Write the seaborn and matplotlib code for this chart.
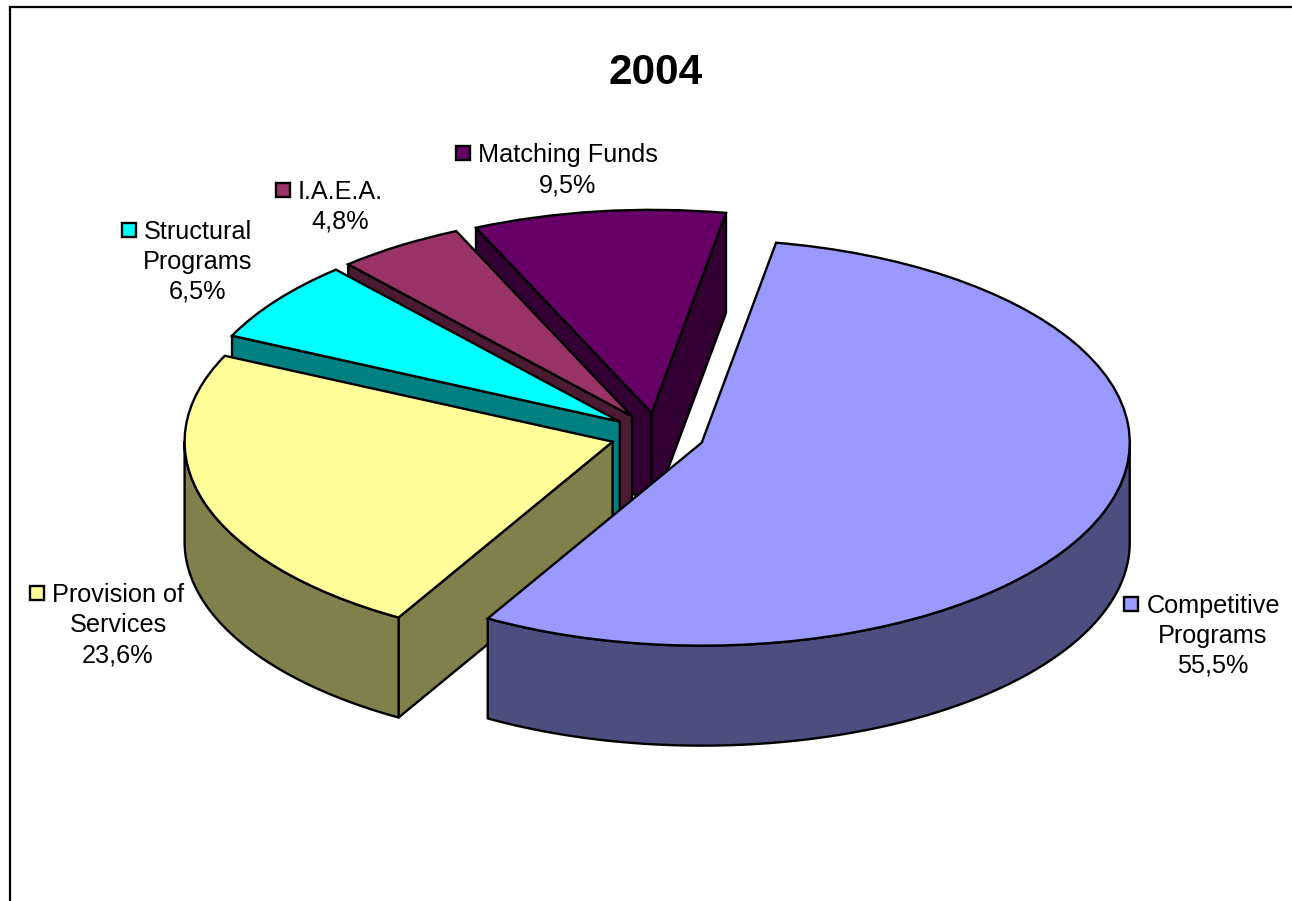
import numpy as np
import seaborn as sns
import matplotlib
matplotlib.use('Agg')
import matplotlib.pyplot as plt
from matplotlib.lines import Line2D

# slices, clockwise from the first cut
categories = ['Competitive\nPrograms', 'Provision of\nServices', 'Structural\nPrograms', 'I.A.E.A.', 'Matching Funds']
shares = [55.5, 23.6, 6.5, 4.8, 9.5]
share_labels = ['55,5%', '23,6%', '6,5%', '4,8%', '9,5%']
top_colors = ['#9999FF', '#FFFF99', '#00FFFF', '#993366', '#660066']

W, H = 1292, 901
CX, CY = 657.5, 435    # pie centre in pixels
RX, RY = 428, 203      # ellipse radii in pixels
DEPTH = 100 / RY
EXPLODE = 0.11
START = 10             # clockwise from top
LW = 1.7

sns.set_theme(style='white')
plt.rcParams['font.family'] = ['Liberation Sans', 'DejaVu Sans']
palette = sns.color_palette(top_colors)
wall_colors = [tuple(np.array(c) * 0.5) for c in palette]

fig = plt.figure(figsize=(W / 100, H / 100), dpi=100)
ax = fig.add_axes([0, 0, 1, 1])


def to_data(px, py):
    return (px - CX) / RX, (CY - py) / RY


wedges, _ = ax.pie(shares, explode=[EXPLODE] * len(shares), colors=palette, startangle=90 - START,
                   counterclock=False, radius=1, wedgeprops=dict(edgecolor='black', linewidth=LW))
ax.set_aspect('auto')
ax.set_xlim(to_data(0, 0)[0], to_data(W, 0)[0])
ax.set_ylim(to_data(0, H)[1], to_data(0, 0)[1])
ax.axis('off')

fracs = np.array(shares) / sum(shares) * 360
ends = START + np.cumsum(fracs)
starts = ends - fracs


def wall(xs, ys, color, z):
    xs = np.asarray(xs)
    ys = np.asarray(ys)
    ax.fill(np.r_[xs, xs[::-1]], np.r_[ys, ys[::-1] - DEPTH], facecolor=color, edgecolor='black',
            linewidth=LW, zorder=z, joinstyle='round')


# back slices first, the big one in front
order = [4, 3, 2, 1, 0]
for z, i in enumerate(order):
    a0, a1 = starts[i], ends[i]
    mid = np.radians((a0 + a1) / 2)
    tx, ty = EXPLODE * np.sin(mid), EXPLODE * np.cos(mid)
    base = 2 * z + 2
    # cut faces that look at the viewer
    if np.sin(np.radians(a0)) < 0:
        wall([tx, tx + np.sin(np.radians(a0))], [ty, ty + np.cos(np.radians(a0))], wall_colors[i], base)
    if np.sin(np.radians(a1)) > 0:
        wall([tx, tx + np.sin(np.radians(a1))], [ty, ty + np.cos(np.radians(a1))], wall_colors[i], base)
    # outer rim, front half only
    lo, hi = max(a0, 90), min(a1, 270)
    if hi > lo:
        t = np.radians(np.linspace(lo, hi, 120))
        wall(tx + np.sin(t), ty + np.cos(t), wall_colors[i], base)
    wedges[i].set_zorder(base + 1)

# label centre x, first line y, key x
label_pos = [(1213, 606, 1131), (118, 595, 37), (198, 232, 129), (340, 192, 283), (568, 155, 463)]
for i, (lx, ly, kx) in enumerate(label_pos):
    lines = categories[i].split('\n') + [share_labels[i]]
    for n, line in enumerate(lines):
        x, y = to_data(lx, ly + n * 30)
        ax.text(x, y, line, ha='center', va='center', fontsize=18.2, color='black', zorder=30)
    x, y = to_data(kx, ly - 2)
    ax.plot([x], [y], marker='s', ms=10.5, mfc=palette[i], mec='black', mew=1.7, zorder=30, ls='none')

x, y = to_data(656, 73)
ax.text(x, y, '2004', ha='center', va='center', fontsize=30.5, fontweight='bold', color='black', zorder=30)

# chart frame, only top and left reach the picture
fig.add_artist(Line2D([10 / W, 10 / W], [0, 1 - 7 / H], color='black', lw=1.6))
fig.add_artist(Line2D([10 / W, 1 ], [1 - 7 / H, 1 - 7 / H], color='black', lw=1.6))

fig.savefig('out.png', dpi=100, facecolor='white')
